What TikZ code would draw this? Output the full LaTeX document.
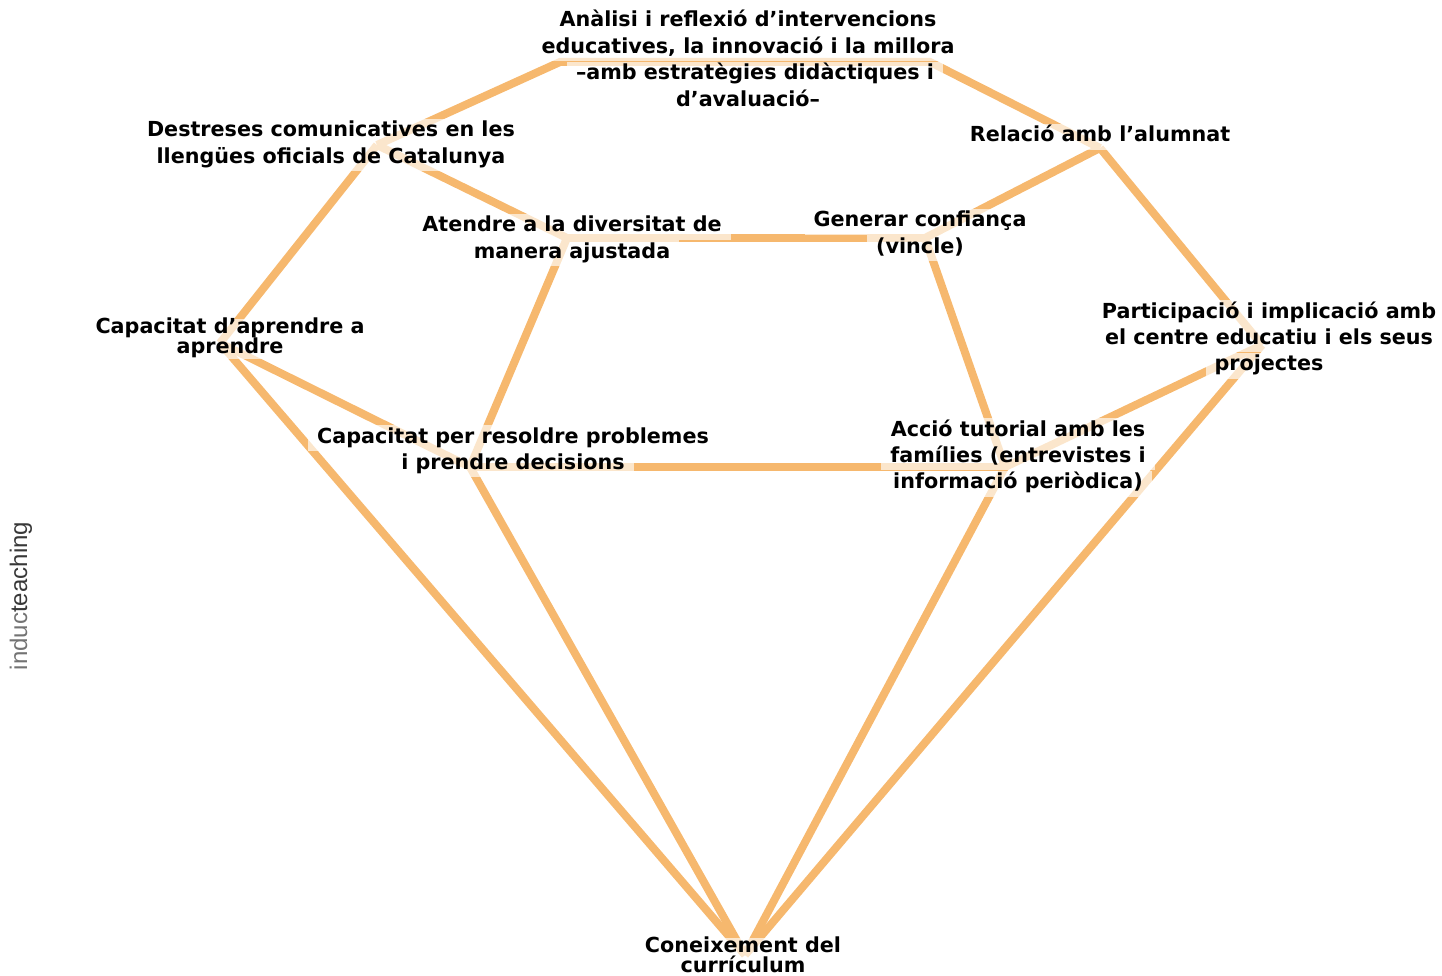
\documentclass[tikz,border=0pt]{standalone}
\usepackage{fontspec}
\usetikzlibrary{positioning}
\setmainfont{DejaVu Sans}
\newfontfamily\markfont{Liberation Sans}
\definecolor{edgeorange}{RGB}{246,184,110}
\pgfdeclarelayer{background}
\pgfsetlayers{background,main}

\begin{document}
\begin{tikzpicture}[x=1pt, y=-1pt,
    link/.style={draw=edgeorange, line width=8pt},
    skill/.style={fill=white, fill opacity=0.65, text opacity=1, anchor=base,
        inner xsep=9pt, inner ysep=2pt, text height=16pt, text depth=6pt,
        font=\bfseries\fontsize{20.7}{26}\selectfont},
    skilltight/.style={skill, inner ysep=1pt, text height=13pt, text depth=5pt}]

    % Frame
    \useasboundingbox (0, 0) rectangle (1442, 976);

    % Junctions of the diamond
    \coordinate (dest)   at (377, 145);
    \coordinate (topL)   at (560, 62);
    \coordinate (topR)   at (930, 62);
    \coordinate (rel)    at (1100, 148);
    \coordinate (atend)  at (567, 238);
    \coordinate (gen)    at (925, 238);
    \coordinate (apren)  at (220, 343);
    \coordinate (part)   at (1262, 345);
    \coordinate (resol)  at (470, 467);
    \coordinate (accio)  at (1005, 467);
    \coordinate (curric) at (745, 955);

    % Labels, one node per line
    \node[skill] (analisiA) at (748, 27) {Anàlisi i reflexió d’intervencions};
    \node[skill, below=0pt of analisiA] (analisiB) {educatives, la innovació i la millora};
    \node[skill, below=0pt of analisiB, xshift=7pt] (analisiC) {–amb estratègies didàctiques i};
    \node[skill, below=0pt of analisiC, xshift=-7pt] (analisiD) {d’avaluació–};

    \node[skill] (destA) at (331, 137) {Destreses comunicatives en les};
    \node[skill, below=0pt of destA] (destB) {llengües oficials de Catalunya};

    \node[skill] (relA) at (1100, 142) {Relació amb l’alumnat};

    \node[skill] (atendA) at (572, 232) {Atendre a la diversitat de};
    \node[skill, below=0pt of atendA] (atendB) {manera ajustada};

    \node[skill] (genA) at (920, 227) {Generar confiança};
    \node[skill, below=0pt of genA] (genB) {(vincle)};

    \node[skilltight] (aprenA) at (230, 333) {Capacitat d’aprendre a};
    \node[skilltight, below=0pt of aprenA] (aprenB) {aprendre};

    \node[skill] (partA) at (1269, 318) {Participació i implicació amb};
    \node[skill, below=0pt of partA] (partB) {el centre educatiu i els seus};
    \node[skill, below=0pt of partB] (partC) {projectes};

    \node[skill] (resolA) at (513, 443) {Capacitat per resoldre problemes};
    \node[skill, below=0pt of resolA] (resolB) {i prendre decisions};

    \node[skill] (accioA) at (1018, 436) {Acció tutorial amb les};
    \node[skill, below=0pt of accioA] (accioB) {famílies (entrevistes i};
    \node[skill, below=0pt of accioB] (accioC) {informació periòdica)};

    \node[skilltight] (curricA) at (743, 952) {Coneixement del};
    \node[skilltight, below=0pt of curricA] (curricB) {currículum};

    % Side mark
    \node[rotate=90, font=\markfont\fontsize{24}{24}\selectfont] (mark) at (21, 596)
        {\textcolor{black!55}{induc}\textcolor{black!78}{teaching}};

    % Connectors
    \begin{pgfonlayer}{background}
        \draw[link] (dest) -- (topL) -- (topR) -- (rel);
        \draw[link] (dest) -- (atend);
        \draw[link] (dest) -- (apren);
        \draw[link] (atend) -- (gen);
        \draw[link] (rel) -- (gen);
        \draw[link] (rel) -- (part);
        \draw[link] (gen) -- (accio);
        \draw[link] (atend) -- (resol);
        \draw[link] (apren) -- (resol);
        \draw[link] (resol) -- (accio);
        \draw[link] (part) -- (accio);
        \draw[link] (apren) -- (curric);
        \draw[link] (resol) -- (curric);
        \draw[link] (accio) -- (curric);
        \draw[link] (part) -- (curric);
    \end{pgfonlayer}

\end{tikzpicture}
\end{document}
